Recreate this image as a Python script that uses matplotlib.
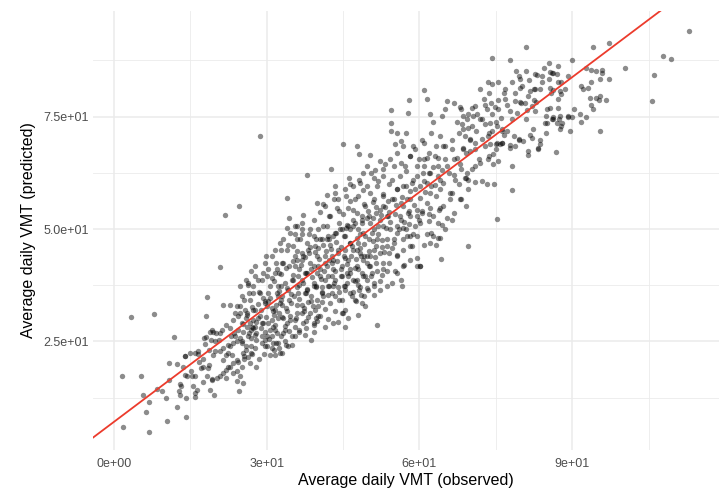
import numpy as np
import matplotlib.pyplot as plt

# Observed vs predicted average daily VMT
# (grouped by observed range so the lists stay readable)
obs_a = [1.5, 1.8, 3.3, 5.4, 5.8, 6.3, 6.9, 6.9, 7.9, 8.4, 9.4, 10.2, 10.5, 10.9, 10.9,
         11.9, 12.4, 12.8, 13.2, 13.9, 14.0, 14.1, 14.2, 14.9, 15.3, 15.6, 16.0, 16.5,
         16.0, 17.1, 17.4, 16.8, 18.0, 18.1, 18.2, 18.6, 19.2, 19.0, 19.5, 19.8, 17.5,
         15.1, 13.5, 18.8, 19.6, 17.8, 16.3, 13.0, 14.3, 15.9, 13.0, 16.6, 15.9, 13.9,
         17.7, 18.9, 18.7, 19.5, 18.5, 17.5, 18.2, 19.2, 12.3, 19.8]
pred_a = [17.3, 6.0, 30.4, 17.3, 13.1, 9.3, 11.6, 4.9, 31.1, 14.4, 14.0, 12.4, 7.4, 20.2, 16.5,
          25.9, 20.0, 13.9, 15.0, 17.6, 21.8, 8.3, 12.4, 22.4, 17.2, 15.0, 12.7, 22.3,
          17.2, 19.1, 21.0, 20.5, 25.9, 30.7, 34.8, 19.7, 16.6, 25.3, 27.1, 22.8, 16.0,
          18.4, 19.2, 14.2, 13.0, 24.4, 14.2, 15.6, 17.2, 13.5, 13.1, 22.8, 22.4, 21.7,
          25.7, 27.2, 23.1, 22.0, 19.1, 19.4, 17.2, 16.4, 10.5, 25.0]

obs_b = [26.4, 27.4, 28.4, 29.3, 25.1, 24.1, 22.8, 21.5, 22.1, 23.4, 21.2, 25.4, 26.1, 26.7,
         27.4, 27.0, 28.0, 29.0, 24.8, 24.1, 23.4, 22.5, 23.1, 22.0, 21.5, 22.8, 23.4, 24.4,
         25.1, 24.8, 25.4, 24.6, 22.1, 22.1, 20.8, 20.2, 21.5, 20.8, 20.8, 24.8, 27.4, 26.1,
         28.7, 20.9, 21.8, 24.6, 25.4, 24.2, 22.8, 24.4, 25.1, 26.4, 27.7, 25.7, 26.4, 27.7,
         29.0, 26.8, 28.2, 29.7, 27.7, 29.0, 24.4, 23.6, 27.0, 29.7, 25.1, 27.9, 29.7, 25.9,
         26.3, 27.2, 28.5, 26.8, 28.0, 29.5, 22.4, 23.3, 24.2, 26.0, 28.9, 27.3, 25.6, 23.0]
pred_b = [37.6, 35.8, 36.1, 34.7, 35.0, 32.8, 33.2, 33.2, 28.7, 29.8, 27.6, 27.2, 28.3, 29.1,
          28.0, 25.7, 25.4, 24.6, 25.7, 25.0, 24.6, 24.3, 22.0, 22.0, 20.9, 19.4, 20.2, 20.5,
          19.4, 17.2, 15.7, 13.9, 16.8, 18.7, 17.2, 16.8, 17.9, 22.8, 26.9, 31.3, 29.8, 31.3,
          30.6, 41.5, 53.2, 55.1, 22.4, 18.5, 23.9, 27.6, 24.6, 26.1, 28.3, 32.0, 38.0, 39.5,
          38.7, 34.3, 33.4, 33.5, 32.0, 29.1, 30.6, 26.8, 23.9, 23.9, 29.1, 26.9, 27.2, 23.0,
          21.6, 22.1, 21.0, 20.3, 19.2, 22.1, 19.4, 17.9, 16.1, 30.2, 27.9, 31.9, 21.2, 26.2]

obs_c = [31.4, 32.6, 31.9, 31.0, 31.6, 33.3, 33.6, 33.9, 34.6, 34.3, 32.6, 35.9, 35.6, 36.9,
         37.2, 37.5, 37.5, 38.5, 39.2, 39.2, 39.2, 39.8, 30.6, 32.0, 30.0, 31.3, 31.0, 32.3,
         30.0, 30.0, 30.3, 32.3, 33.6, 34.0, 35.6, 36.9, 37.8, 39.5, 31.6, 30.3, 30.3, 31.6,
         33.0, 34.3, 35.6, 36.9, 38.2, 39.5, 32.3, 33.6, 34.9, 36.2, 37.5, 38.8, 33.0, 34.7,
         36.2, 37.9, 38.8, 31.3, 32.9, 34.2, 34.9, 38.8, 30.3, 37.9, 33.9, 34.3, 33.9, 35.9,
         37.2, 39.2, 39.8, 39.2, 37.9, 36.9, 35.9, 36.9, 35.6, 38.5, 37.9, 36.5, 35.2, 33.9,
         32.6, 31.6, 33.3, 32.0, 35.9, 37.2, 38.5, 39.8, 39.2, 39.8, 28.7, 29.9, 31.0, 32.8,
         31.7, 30.6, 33.1, 36.4, 38.1, 35.0, 32.5, 37.0, 39.6]
pred_c = [23.1, 22.4, 24.6, 26.1, 27.6, 26.9, 25.0, 29.1, 30.6, 34.3, 33.5, 31.3, 29.8, 33.2,
          29.1, 35.8, 26.5, 31.3, 29.1, 27.2, 37.3, 34.3, 37.3, 35.8, 32.8, 31.7, 29.8, 30.2,
          26.1, 23.9, 29.1, 24.6, 27.6, 31.8, 28.3, 31.3, 28.0, 32.0, 32.0, 35.8, 41.0, 40.2,
          42.5, 41.7, 43.9, 44.7, 45.4, 46.2, 37.3, 38.0, 38.7, 39.5, 40.2, 41.0, 35.0, 35.5,
          35.8, 36.5, 35.0, 28.3, 26.1, 23.9, 26.1, 25.4, 33.9, 61.9, 56.9, 52.5, 50.3, 50.6,
          53.2, 52.1, 55.8, 38.0, 40.2, 38.7, 37.2, 51.4, 48.8, 49.9, 46.9, 47.7, 46.2, 45.4,
          46.9, 45.4, 42.4, 41.0, 43.2, 43.9, 42.4, 43.9, 48.4, 40.2, 70.7, 44.1, 39.0, 39.9,
          21.9, 22.0, 30.4, 27.2, 33.8, 24.3, 36.2, 48.9, 30.1]

obs_d = [41.5, 42.1, 42.4, 43.4, 44.9, 44.7, 46.7, 47.0, 48.5, 49.4, 40.8, 43.1, 45.4, 48.0,
         40.1, 43.4, 44.0, 45.4, 47.6, 48.7, 49.8, 40.8, 42.1, 43.4, 44.7, 46.0, 47.3, 48.7,
         42.8, 44.1, 45.4, 46.7, 48.0, 49.3, 40.1, 41.5, 40.8, 42.1, 43.4, 44.7, 46.4, 47.7,
         49.0, 47.0, 45.4, 49.3, 41.5, 43.1, 45.4, 42.6, 44.9, 47.7, 48.2, 49.6, 49.0, 45.7,
         45.1, 44.1, 43.1, 41.8, 40.5, 49.0, 48.3, 49.6, 47.3, 41.5, 43.4, 43.4, 46.4, 47.0,
         48.0, 49.3, 48.7, 47.0, 45.7, 44.4, 43.1, 41.8, 40.5, 45.4, 46.4, 47.7, 49.0, 48.3,
         47.0, 46.0, 44.7, 43.4, 42.1, 40.8, 47.7, 49.6, 45.7, 44.1, 48.3, 47.0, 45.4, 44.1,
         42.4, 41.1, 46.2, 48.9, 45.0, 41.9, 40.4, 43.8, 46.0, 47.9, 39.8, 44.8, 42.7, 48.6]
pred_d = [32.1, 30.0, 33.5, 31.7, 31.3, 34.3, 35.0, 36.1, 35.4, 32.8, 36.1, 37.3, 37.3, 37.6,
          30.6, 35.0, 29.4, 32.0, 33.9, 33.5, 36.4, 47.7, 48.4, 49.1, 49.9, 50.6, 51.4, 52.1,
          43.9, 44.7, 45.4, 46.2, 46.9, 48.4, 41.7, 42.5, 35.8, 37.3, 38.7, 39.5, 41.0, 41.7,
          43.2, 38.7, 36.5, 39.5, 28.3, 29.1, 28.3, 63.4, 68.8, 68.5, 66.6, 64.0, 62.5, 40.2,
          43.9, 45.4, 43.2, 41.7, 39.5, 39.5, 37.2, 43.9, 41.3, 55.1, 58.1, 59.5, 56.2, 54.3,
          57.3, 55.1, 52.9, 50.6, 51.0, 49.9, 48.4, 47.7, 47.7, 48.4, 46.9, 48.0, 49.1, 44.7,
          45.4, 43.2, 41.7, 40.6, 39.5, 37.2, 38.7, 36.9, 38.0, 37.2, 60.3, 59.5, 58.8, 56.6,
          52.9, 50.6, 61.3, 58.6, 53.4, 57.6, 53.8, 54.6, 30.2, 30.9, 29.5, 31.3, 45.6, 44.0]

obs_e = [54.6, 56.5, 51.7, 51.0, 50.0, 50.6, 50.3, 50.6, 50.3, 51.3, 52.3, 53.2, 54.2, 55.2,
         56.8, 58.2, 59.1, 55.5, 57.2, 59.5, 59.5, 58.8, 58.2, 57.5, 58.5, 59.5, 56.8, 55.5,
         55.2, 53.6, 52.6, 52.9, 51.6, 50.3, 50.3, 51.6, 52.9, 52.9, 52.3, 53.9, 52.3, 50.3,
         51.0, 51.6, 52.9, 54.2, 55.5, 56.2, 56.8, 57.5, 58.2, 56.8, 55.5, 54.6, 56.2, 58.8,
         54.9, 53.9, 59.5, 58.2, 56.8, 54.9, 53.6, 51.0, 51.0, 52.3, 52.9, 51.0, 54.5, 57.9,
         54.5, 54.5, 55.5, 57.8, 57.3, 56.4, 53.1, 57.0, 50.9]
pred_e = [38.0, 37.4, 28.7, 35.4, 52.9, 49.1, 43.9, 40.2, 66.4, 63.2, 65.1, 64.4, 65.5, 68.8,
          68.5, 66.2, 67.7, 67.0, 64.0, 64.0, 48.4, 48.8, 48.4, 48.4, 46.2, 43.6, 45.4, 44.3,
          40.6, 40.6, 39.8, 42.4, 40.6, 41.7, 58.1, 59.5, 57.7, 55.1, 54.3, 52.9, 52.1, 51.4,
          49.9, 47.7, 50.6, 49.9, 50.6, 52.9, 55.1, 56.6, 58.4, 59.5, 58.8, 61.0, 61.8, 61.0,
          56.6, 56.2, 54.3, 52.9, 50.3, 47.7, 46.2, 45.4, 38.0, 36.5, 61.8, 61.4, 76.4, 78.7,
          73.5, 71.8, 71.4, 75.9, 71.4, 69.6, 44.8, 42.1, 55.9]

obs_f = [60.8, 61.4, 63.1, 64.7, 66.3, 65.0, 67.3, 68.6, 69.3, 67.0, 65.7, 63.7, 62.1, 61.4,
         64.7, 66.0, 68.0, 66.3, 64.4, 62.1, 60.4, 62.7, 64.0, 61.4, 60.8, 62.1, 60.1, 64.2,
         69.6, 60.1, 60.1, 68.6, 68.0, 69.0, 69.6, 69.6, 68.0, 68.6, 69.3, 69.6, 68.3, 69.0,
         60.8, 61.4, 62.1, 64.4, 65.0, 65.5, 66.8, 68.2, 62.7, 62.3, 64.1, 65.0, 63.2, 66.4,
         67.7, 60.5, 60.9, 63.6, 66.8, 62.3, 63.6, 60.2, 63.2, 65.0, 66.8, 68.2, 69.1, 65.9,
         64.1, 62.7]
pred_f = [64.0, 65.9, 66.2, 68.5, 67.7, 65.5, 65.9, 67.7, 62.5, 61.0, 62.5, 61.8, 62.5, 60.3,
          60.3, 58.1, 56.6, 52.1, 51.0, 54.7, 54.0, 48.4, 48.0, 48.8, 46.5, 46.9, 41.7, 43.3,
          46.2, 59.5, 51.4, 68.1, 64.4, 61.4, 61.0, 58.8, 77.2, 75.1, 74.4, 72.5, 73.3, 70.7,
          81.0, 79.0, 75.5, 75.1, 76.6, 78.5, 78.1, 76.6, 73.7, 71.4, 70.7, 68.5, 68.5, 69.9,
          71.4, 69.9, 65.5, 64.0, 65.5, 49.1, 48.0, 41.7, 46.5, 49.9, 53.6, 56.6, 55.1, 56.6,
          54.7, 52.9]

obs_g = [79.6, 77.7, 76.2, 75.1, 73.9, 75.4, 74.5, 74.5, 73.5, 78.1, 71.6, 70.9, 70.0, 70.9,
         72.2, 73.2, 74.7, 78.1, 75.2, 74.3, 77.7, 73.4, 74.3, 79.8, 79.8, 79.0, 78.8, 76.5,
         75.5, 76.8, 77.2, 78.8, 79.8, 72.9, 73.2, 70.3, 71.3, 70.6, 72.2, 72.9, 73.9, 75.2,
         76.2, 77.1, 76.5, 74.2, 73.4, 70.0, 70.9, 72.9, 75.2, 78.5, 79.6, 78.8, 77.8, 75.8,
         77.7, 74.9, 74.2, 71.0, 76.0]
pred_g = [69.7, 68.6, 69.2, 68.8, 68.8, 65.1, 64.4, 66.6, 65.5, 64.0, 65.5, 64.1, 67.3, 60.4,
          60.7, 59.9, 60.1, 58.6, 52.3, 88.1, 87.5, 82.7, 82.2, 81.4, 83.3, 85.2, 80.2, 80.3,
          78.8, 79.0, 77.5, 78.5, 78.3, 77.5, 76.6, 77.0, 75.5, 75.1, 74.4, 73.3, 73.5, 72.9,
          72.2, 71.8, 71.0, 71.8, 70.7, 69.9, 69.2, 68.4, 69.2, 70.7, 70.1, 68.4, 68.1, 68.8,
          76.2, 77.2, 75.5, 71.9, 74.6]

obs_h = [80.9, 81.6, 83.1, 84.0, 85.7, 85.5, 86.0, 87.0, 87.1, 89.1, 87.1, 85.7, 86.2, 87.6,
         87.8, 83.7, 82.4, 81.7, 80.1, 87.2, 87.6, 89.1, 89.9, 88.0, 87.0, 86.3, 84.7, 84.9,
         82.4, 82.9, 81.1, 82.1, 82.7, 85.0, 85.7, 80.8, 81.7, 82.1, 83.2, 87.3, 87.6, 89.6,
         85.0, 86.0, 83.7, 80.4, 86.8, 83.2, 81.4, 81.4, 90.0, 94.0, 97.3, 97.3, 95.8, 95.8,
         94.7, 93.6, 92.7, 91.7, 93.1, 93.5, 94.7, 95.4, 95.2, 96.6, 93.7, 91.6, 91.7, 95.5,
         100.3, 105.6, 106.0, 107.8, 109.4, 113.0]
pred_h = [90.4, 83.1, 84.2, 84.0, 84.9, 87.0, 84.8, 84.4, 86.3, 84.0, 82.6, 81.4, 80.9, 80.7,
          80.1, 81.2, 81.1, 80.7, 81.7, 77.0, 75.1, 75.0, 75.0, 73.6, 73.6, 74.8, 73.6, 75.1,
          78.8, 78.3, 76.5, 77.4, 76.3, 76.6, 77.0, 78.1, 71.0, 70.3, 68.1, 74.5, 72.3, 71.8,
          73.5, 74.4, 68.8, 69.6, 67.1, 67.9, 67.3, 66.4, 87.5, 90.5, 91.3, 83.3, 85.4, 84.6,
          85.2, 85.3, 85.8, 81.7, 81.4, 79.1, 79.1, 79.6, 78.6, 78.6, 77.5, 75.6, 73.8, 71.8,
          85.8, 78.5, 84.2, 88.5, 87.8, 94.1]

# extra points in the dense core
obs_i = [28.7, 29.6, 31.0, 31.9, 32.4, 33.3, 33.7, 32.8, 34.6, 31.7,
         30.6, 29.2, 28.3, 27.2, 26.5, 27.8, 29.6, 31.2, 32.4, 33.7,
         33.0, 31.0, 35.5, 36.4, 37.8, 39.2, 40.5, 37.4, 36.0, 38.7,
         40.1, 41.0, 42.8, 44.2, 42.3, 39.6, 37.8, 36.4, 35.1, 34.2,
         32.8, 31.5, 30.1, 29.2, 28.3, 27.4, 26.5, 25.6, 24.7, 23.8,
         22.8, 23.8, 25.1, 26.0, 26.9, 27.8, 25.6, 24.2, 22.4, 21.5,
         20.6, 20.1, 19.2]
pred_i = [35.8, 33.9, 32.4, 33.2, 31.3, 30.2, 32.4, 34.3, 29.8, 28.7,
          27.6, 29.1, 30.2, 28.3, 26.9, 26.5, 25.4, 24.6, 23.5, 24.3,
          22.4, 23.5, 26.1, 27.6, 29.5, 28.7, 30.6, 31.7, 33.2, 33.9,
          32.8, 35.0, 35.8, 34.3, 37.3, 37.3, 35.8, 37.6, 38.7, 36.5,
          37.3, 38.4, 39.5, 40.2, 38.7, 37.3, 35.8, 34.3, 32.8, 31.3,
          28.0, 26.1, 25.0, 23.9, 22.4, 23.5, 21.7, 20.9, 22.4, 23.5,
          25.4, 26.9, 27.6]

obs_j = [35.5, 36.9, 38.3, 40.1, 41.4, 42.8, 44.6, 46.0, 47.3, 48.7,
         50.0, 49.1, 47.8, 46.4, 45.1, 43.7, 42.3, 41.0, 39.6, 38.3,
         36.9, 35.5, 40.1, 41.9, 44.2, 46.4, 48.3, 50.0, 51.4, 52.3,
         51.4, 52.8, 54.1, 55.5, 54.6, 53.7, 55.5, 56.8, 58.2, 57.3,
         59.1, 59.6, 57.8, 56.4, 51.9, 53.7, 51.4, 49.6, 47.8, 45.9,
         44.2, 42.3, 41.0, 43.2, 45.5, 47.3, 49.1, 51.0, 52.8, 54.6,
         56.4, 58.2, 55.5, 57.3, 59.1, 54.1, 51.9, 49.6, 48.2, 46.4,
         50.5, 52.8, 55.0, 57.3, 59.6, 51.0, 49.6, 48.2, 46.4, 45.1,
         47.3, 49.1, 50.5, 52.3, 53.7, 55.5, 56.8, 58.2, 59.6, 56.4,
         24.7, 26.0, 26.9, 27.8, 29.6, 31.0, 31.9, 32.8, 34.2, 33.3,
         34.6, 36.0, 32.4, 33.7, 35.1, 36.4, 37.8, 39.2, 40.5, 41.4,
         42.8, 43.2, 44.6]
pred_j = [41.7, 43.2, 44.7, 45.8, 44.0, 42.5, 41.0, 39.5, 38.4, 40.2,
          41.7, 44.0, 45.4, 46.9, 48.4, 49.1, 47.7, 46.5, 47.7, 48.8,
          49.9, 50.6, 49.9, 50.6, 51.4, 49.9, 48.8, 47.7, 46.2, 44.7,
          42.5, 41.0, 42.5, 43.9, 45.8, 47.7, 49.1, 47.7, 46.2, 49.9,
          50.6, 52.9, 53.6, 52.1, 50.6, 52.9, 53.6, 52.5, 53.6, 54.7,
          54.0, 52.9, 55.5, 56.6, 57.3, 56.6, 55.5, 56.6, 57.3, 56.6,
          55.8, 56.6, 58.8, 59.5, 58.8, 59.9, 60.7, 59.5, 61.0, 59.9,
          62.5, 63.3, 64.0, 62.9, 61.8, 37.3, 38.7, 36.5, 35.8, 37.3,
          34.3, 35.0, 39.5, 38.4, 37.3, 40.2, 41.7, 43.2, 41.7, 38.7,
          37.3, 38.7, 40.6, 41.7, 42.5, 44.0, 42.5, 45.4, 46.5, 47.7,
          49.1, 47.7, 40.2, 41.3, 42.8, 41.0, 40.2, 41.7, 41.0, 38.7,
          39.5, 38.0, 39.5]

obs_k = [60.9, 62.3, 61.8, 64.1, 63.2, 61.4, 60.5, 61.8, 63.6, 65.5,
         64.6, 66.4, 67.7, 69.1, 70.4, 71.8, 73.6, 75.0, 76.3, 68.2,
         66.8, 65.5, 63.6, 61.8, 60.0, 58.2, 56.4, 58.7, 60.9, 69.1,
         70.9, 72.3, 73.6, 70.0, 68.6, 67.3, 70.4, 71.8, 69.5, 70.9,
         72.7, 74.1, 75.4, 75.0, 76.3, 78.1, 79.1, 80.0, 81.3, 82.7,
         84.0, 85.4, 80.9, 82.2, 83.6, 84.9, 86.3, 87.7, 89.1, 90.4,
         87.2, 88.5, 85.8, 78.1, 76.8, 75.4, 73.6, 71.8, 79.5, 80.9,
         82.7, 84.5, 86.3, 87.7, 92.2, 93.6, 95.4, 92.7, 94.0]
pred_k = [60.7, 59.5, 62.5, 61.0, 57.3, 55.8, 53.6, 51.7, 51.4, 52.5,
          55.1, 58.1, 59.9, 61.4, 63.3, 64.7, 66.2, 67.7, 69.2, 63.3,
          62.1, 64.0, 65.9, 67.0, 65.5, 66.2, 64.7, 68.5, 69.2, 67.0,
          67.7, 70.0, 71.4, 70.0, 72.2, 73.7, 72.9, 74.4, 75.5, 77.4,
          78.9, 78.1, 76.6, 73.7, 71.8, 74.4, 75.9, 78.1, 79.6, 81.1,
          82.6, 83.3, 74.4, 72.2, 69.9, 71.4, 74.4, 72.9, 75.1, 76.6,
          78.9, 81.1, 80.3, 82.6, 81.1, 82.6, 80.3, 81.1, 84.1, 85.2,
          84.4, 85.9, 84.8, 82.6, 81.1, 82.6, 83.3, 74.8, 76.6]

obs_l = [26.2, 27.1, 28.0, 28.9, 29.8, 30.7, 31.5, 32.2, 33.1, 33.9,
         34.8, 35.4, 25.3, 26.9, 29.1, 30.4, 32.0, 33.5, 34.4, 35.8,
         36.3, 37.1, 38.0, 38.9, 39.7, 40.6, 41.3, 42.2, 43.0, 43.9,
         44.5, 45.3, 36.7, 37.6, 38.6, 39.4, 40.3, 41.7, 42.5, 43.6,
         35.2, 36.0, 44.2, 42.0, 40.9, 39.1, 38.2, 37.3,
         45.8, 46.6, 47.5, 48.4, 49.2, 50.1, 50.9, 51.8, 52.6, 53.4,
         54.3, 55.1, 45.6, 46.9, 47.9, 48.8, 49.9, 50.8, 51.5, 52.4,
         53.3, 54.1, 55.4, 46.3, 48.0, 49.7, 51.2, 52.7, 54.0, 55.0,
         56.0, 57.0, 58.0, 59.0, 60.2, 61.1, 62.0, 63.0, 64.0, 56.6,
         58.6, 60.6, 62.6, 64.5, 57.9, 59.9, 61.9, 63.9]
pred_l = [30.8, 32.6, 29.4, 31.9, 30.5, 34.6, 30.9, 35.2, 33.0, 36.8,
          33.6, 35.0, 28.9, 27.5, 26.3, 25.6, 26.8, 28.4, 27.3, 30.2,
          34.4, 37.9, 36.6, 39.3, 37.2, 38.9, 40.7, 43.1, 41.2, 42.8,
          45.9, 43.5, 41.9, 43.8, 46.1, 44.9, 43.3, 45.1, 46.4, 47.1,
          39.8, 45.2, 36.1, 35.3, 33.8, 32.8, 30.4, 32.5,
          42.2, 44.1, 43.4, 45.7, 46.6, 45.1, 47.3, 48.9, 47.5, 50.2,
          51.5, 53.4, 50.3, 52.0, 50.0, 51.3, 54.1, 52.4, 55.0, 53.1,
          54.8, 53.8, 55.3, 40.3, 41.0, 42.4, 43.8, 45.9, 44.6, 46.9,
          50.1, 51.6, 54.0, 55.4, 57.0, 58.2, 57.9, 59.8, 58.9, 57.1,
          60.3, 62.4, 63.9, 63.1, 51.1, 52.1, 53.4, 54.3]

# fitted line drawn across the panel
line_intercept = 7.1
line_slope = 0.852

x_ticks = [0, 30, 60, 90]
x_labels = ['0e+00', '3e+01', '6e+01', '9e+01']
y_ticks = [25, 50, 75]
y_labels = ['2.5e+01', '5.0e+01', '7.5e+01']
x_minor = [15, 45, 75, 105]
y_minor = [12.5, 37.5, 62.5, 87.5]

observed = np.array(obs_a + obs_b + obs_c + obs_d + obs_e + obs_f + obs_g + obs_h
                    + obs_i + obs_j + obs_k + obs_l)
predicted = np.array(pred_a + pred_b + pred_c + pred_d + pred_e + pred_f + pred_g + pred_h
                     + pred_i + pred_j + pred_k + pred_l)

plt.rcParams['font.family'] = ['Liberation Sans', 'DejaVu Sans']

fig = plt.figure(figsize=(7.22, 4.92), dpi=100)
ax = fig.add_axes([0.1288, 0.0858, 0.867, 0.892])

ax.scatter(observed, predicted, s=15, c='black', alpha=0.45, linewidths=0, zorder=3)

xl = (-4.1, 118.8)
ax.set_xlim(xl)
ax.set_ylim(0.9, 98.5)
xs = np.array(xl)
ax.plot(xs, line_intercept + line_slope * xs, color='#ec3b2c', lw=1.3, zorder=4)

ax.set_xticks(x_ticks)
ax.set_xticklabels(x_labels)
ax.set_yticks(y_ticks)
ax.set_yticklabels(y_labels)
ax.set_xticks(x_minor, minor=True)
ax.set_yticks(y_minor, minor=True)
ax.grid(True, which='major', color='#ebebeb', lw=1.1, zorder=0)
ax.grid(True, which='minor', color='#ebebeb', lw=0.6, zorder=0)
ax.set_axisbelow(True)
for s in ax.spines.values():
    s.set_visible(False)
ax.tick_params(which='both', length=0, labelsize=9, labelcolor='#4d4d4d')
ax.tick_params(axis='x', pad=6)
ax.tick_params(axis='y', pad=3)

ax.set_xlabel('Average daily VMT (observed)', fontsize=11.5, labelpad=2)
ax.set_ylabel('Average daily VMT (predicted)', fontsize=11.5, labelpad=5)

fig.savefig('out.png', dpi=100)
